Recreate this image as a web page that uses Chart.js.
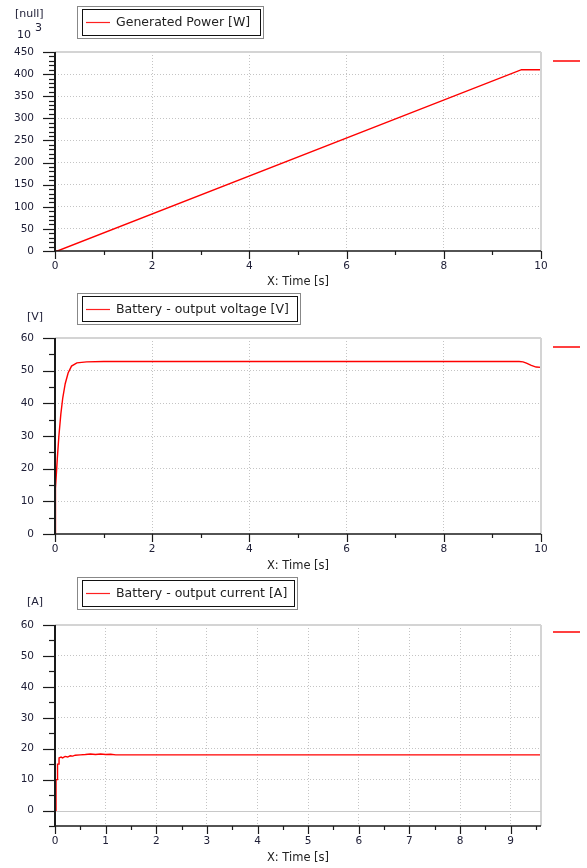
<!DOCTYPE html>
<html><head><meta charset="utf-8">
<script src="https://cdn.jsdelivr.net/npm/chart.js@4.4.1/dist/chart.umd.min.js"></script>
<style>
html,body{margin:0;padding:0;background:#fff;}
#wrap{position:relative;width:587px;height:868px;overflow:hidden;background:#fff;}
#wrap canvas{position:absolute;left:0;top:0;}
</style></head>
<body><div id="wrap">
<canvas id="c1" width="587" height="868"></canvas>
<canvas id="c2" width="587" height="868"></canvas>
<canvas id="c3" width="587" height="868"></canvas>
</div>
<script>
// ---- data ----
const powerTime  = [0, 0.05, 9.6, 10];
const powerValue = [0, 0, 410, 410];          // x 10^3 W

const voltageTime  = [0, 0, 0.01, 0.02, 0.047, 0.08, 0.12, 0.16, 0.21, 0.27, 0.34, 0.45, 0.65, 1.0, 9.55, 9.63, 9.7, 9.8, 9.9, 10];
const voltageValue = [0, 6.4, 6.4, 14, 23, 30, 36.7, 41.7, 46, 49.3, 51.4, 52.4, 52.7, 52.8, 52.8, 52.7, 52.3, 51.6, 51.1, 51];

const currentTime  = [0, 0.02, 0.02, 0.05, 0.05, 0.08, 0.08, 0.12, 0.15, 0.2, 0.25, 0.3, 0.35, 0.4, 0.5, 0.6, 0.7, 0.8, 0.9, 1.0, 1.1, 1.2, 9.6];
const currentValue = [0, 0, 10, 10, 15, 15, 17, 17.3, 17, 17.5, 17.3, 17.7, 17.6, 17.9, 18, 18.1, 18.3, 18.1, 18.3, 18.1, 18.2, 18, 18];

const seriesLabels = ['Generated Power [W]', 'Battery - output voltage [V]', 'Battery - output current [A]'];
const unitLabels = ['[null]', '[V]', '[A]'];
const xTitle = 'X: Time [s]';

// ---- drawing helpers ----
const FONT = "'DejaVu Sans', Verdana, sans-serif";
const TXT = '#202038';
function pts(xs, ys) { return xs.map((x, i) => ({x: x, y: ys[i]})); }

function decorPlugin(spec) {
  return {
    id: 'decor' + spec.id,
    afterDraw(chart) {
      const ctx = chart.ctx, ca = chart.chartArea;
      const xs = chart.scales.x, ys = chart.scales.y;
      ctx.save();
      // top & right borders
      ctx.strokeStyle = '#d4d4d4'; ctx.lineWidth = 2;
      ctx.beginPath(); ctx.moveTo(ca.left, ca.top); ctx.lineTo(ca.right, ca.top); ctx.stroke();
      ctx.beginPath(); ctx.moveTo(ca.right, ca.top); ctx.lineTo(ca.right, ca.bottom); ctx.stroke();
      // zero line
      if (spec.zeroLine) {
        const y0 = Math.round(ys.getPixelForValue(0)) + 0.5;
        ctx.strokeStyle = '#c8c8c8'; ctx.lineWidth = 1;
        ctx.beginPath(); ctx.moveTo(ca.left, y0); ctx.lineTo(ca.right, y0); ctx.stroke();
      }
      // axis lines
      ctx.strokeStyle = '#1a1a1a'; ctx.lineWidth = 2;
      ctx.beginPath(); ctx.moveTo(ca.left, ca.top); ctx.lineTo(ca.left, ca.bottom + 1); ctx.stroke();
      ctx.lineWidth = 1.5;
      ctx.beginPath(); ctx.moveTo(ca.left, ca.bottom); ctx.lineTo(ca.right, ca.bottom); ctx.stroke();
      // y ticks
      ctx.lineWidth = 1.2;
      for (let v = spec.yMin; v <= spec.yMax + 1e-9; v += spec.yMinor) {
        const y = Math.round(ys.getPixelForValue(v)) + 0.5;
        const major = Math.abs(v / spec.yStep - Math.round(v / spec.yStep)) < 1e-6;
        const len = major ? 12 : 6;
        ctx.beginPath(); ctx.moveTo(ca.left - len, y); ctx.lineTo(ca.left, y); ctx.stroke();
      }
      // x ticks
      for (let v = spec.xMin; v <= spec.xMax + 1e-9; v += spec.xMinor) {
        const x = Math.round(xs.getPixelForValue(v)) + 0.5;
        const major = Math.abs(v / spec.xStep - Math.round(v / spec.xStep)) < 1e-6;
        const len = major ? 8 : 4;
        ctx.beginPath(); ctx.moveTo(x, ca.bottom); ctx.lineTo(x, ca.bottom + len); ctx.stroke();
      }
      // unit label
      ctx.fillStyle = TXT; ctx.textBaseline = 'middle'; ctx.textAlign = 'left';
      ctx.font = '11px ' + FONT;
      ctx.fillText(spec.unit, spec.unitX, spec.unitY);
      if (spec.exp) {
        ctx.font = '11px ' + FONT;
        ctx.fillText('10', 17, 35);
        ctx.font = '11px ' + FONT;
        ctx.fillText('3', 35, 28);
      }
      // legend box
      const L = spec.legend;
      ctx.strokeStyle = '#111'; ctx.lineWidth = 1; ctx.setLineDash([1, 1]);
      ctx.strokeRect(L.x1 + 0.5, L.y1 + 0.5, L.x2 - L.x1, L.y2 - L.y1);
      ctx.setLineDash([]);
      ctx.strokeRect(L.x1 + 5.5, L.y1 + 3.5, L.x2 - L.x1 - 8, L.y2 - L.y1 - 6);
      const ly = Math.round((L.y1 + L.y2) / 2) + 0.5;
      ctx.strokeStyle = '#ff2020'; ctx.lineWidth = 1.2;
      ctx.beginPath(); ctx.moveTo(L.x1 + 9, ly); ctx.lineTo(L.x1 + 33, ly); ctx.stroke();
      ctx.fillStyle = '#222'; ctx.font = '12.5px ' + FONT; ctx.textBaseline = 'middle';
      ctx.fillText(chart.data.datasets[0].label, L.x1 + 39, ly);
      // right side marker
      ctx.strokeStyle = '#ff4040'; ctx.lineWidth = 2;
      ctx.beginPath(); ctx.moveTo(553, spec.markY); ctx.lineTo(580, spec.markY); ctx.stroke();
      ctx.restore();
    }
  };
}

function makeChart(spec) {
  const gridColor = (axisMin, axisMax) => (c) => {
    const v = c.tick ? c.tick.value : null;
    if (v === axisMin || v === axisMax || (spec.zeroLine && v === 0 && axisMin < 0)) return 'rgba(0,0,0,0)';
    return '#c4c4c4';
  };
  return new Chart(document.getElementById(spec.id), {
    type: 'scatter',
    data: { datasets: [{
      label: spec.label,
      data: spec.data,
      showLine: true,
      borderColor: '#ff0000',
      borderWidth: 1.4,
      pointRadius: 0,
      tension: 0,
      fill: false
    }]},
    options: {
      responsive: false,
      animation: false,
      events: [],
      layout: { padding: { top: spec.top, right: 46, bottom: 868 - spec.canvasBottom, left: 0 } },
      plugins: { legend: { display: false }, tooltip: { enabled: false } },
      scales: {
        x: {
          type: 'linear', position: 'bottom',
          min: spec.xMin, max: spec.xMax,
          afterFit: (s) => { s.height = spec.canvasBottom - spec.bottom; },
          ticks: { stepSize: spec.xStep, includeBounds: false, padding: 9, color: TXT, font: { family: FONT, size: 10.5 }, maxRotation: 0, autoSkip: false },
          grid: { color: gridColor(spec.xMin, spec.xMax), drawTicks: false, lineWidth: 1 },
          border: { display: false, dash: [1, 2] },
          title: { display: true, text: xTitle, color: '#222', font: { family: FONT, size: 11.5, lineHeight: 1.2 }, padding: { top: 0, bottom: spec.titlePb } }
        },
        y: {
          type: 'linear',
          min: spec.yMin, max: spec.yMax,
          afterFit: (s) => { s.width = 55; },
          ticks: { stepSize: spec.yStep, includeBounds: false, padding: 21, color: TXT, font: { family: FONT, size: 10.5 }, autoSkip: false },
          grid: { color: gridColor(spec.yMin, spec.yMax), drawTicks: false, lineWidth: 1 },
          border: { display: false, dash: [1, 2] }
        }
      }
    },
    plugins: [decorPlugin(spec)]
  });
}

makeChart({
  id: 'c1', label: seriesLabels[0], data: pts(powerTime, powerValue),
  top: 52, bottom: 251, canvasBottom: 292, titlePb: 3,
  xMin: 0, xMax: 10, xStep: 2, xMinor: 1,
  yMin: 0, yMax: 450, yStep: 50, yMinor: 10,
  unit: unitLabels[0], unitX: 15, unitY: 14, exp: true,
  legend: { x1: 77, y1: 6, x2: 263, y2: 38 }, markY: 61
});
makeChart({
  id: 'c2', label: seriesLabels[1], data: pts(voltageTime, voltageValue),
  top: 338, bottom: 534, canvasBottom: 576, titlePb: 3,
  xMin: 0, xMax: 10, xStep: 2, xMinor: 1,
  yMin: 0, yMax: 60, yStep: 10, yMinor: 5,
  unit: unitLabels[1], unitX: 27, unitY: 317,
  legend: { x1: 77, y1: 293, x2: 300, y2: 324 }, markY: 347
});
makeChart({
  id: 'c3', label: seriesLabels[2], data: pts(currentTime, currentValue),
  top: 625, bottom: 826, canvasBottom: 868, titlePb: 3,
  xMin: 0, xMax: 9.6, xStep: 1, xMinor: 0.5,
  yMin: -5, yMax: 60, yStep: 10, yMinor: 5, zeroLine: true,
  unit: unitLabels[2], unitX: 27, unitY: 602,
  legend: { x1: 77, y1: 577, x2: 297, y2: 609 }, markY: 632
});
</script>
</body></html>
